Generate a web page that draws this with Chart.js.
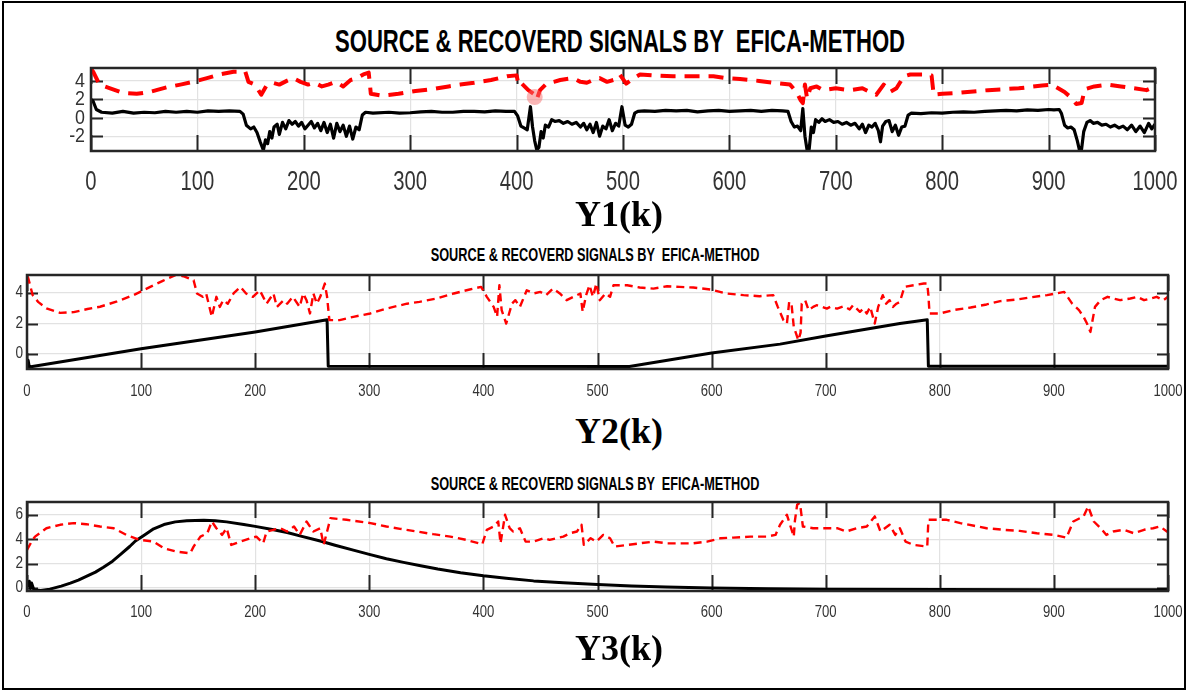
<!DOCTYPE html>
<html>
<head>
<meta charset="utf-8">
<script src="https://cdn.jsdelivr.net/npm/chart.js@4.4.1/dist/chart.umd.min.js"></script>
<style>
  html, body { margin: 0; padding: 0; background: #fff; }
  #fig { position: relative; width: 1188px; height: 691px; overflow: hidden; background: #fff; }
  #frame { position: absolute; left: 2px; top: 1px; width: 1184px; height: 689px; border: 2px solid #000; box-sizing: border-box; }
  canvas { position: absolute; left: 0; }
  .ttl { position: absolute; font-family: 'Liberation Sans', Arial, sans-serif; font-weight: bold; color: #000; white-space: pre; line-height: 1; }
  .ylab { position: absolute; transform: translateX(-50%); font-family: 'Liberation Serif', 'Times New Roman', serif; font-weight: bold; color: #000; white-space: pre; line-height: 1; }
</style>
</head>
<body>
<div id="fig">
  <div id="frame"></div>
  <div class="ttl" style="left:620px; top:25px; font-size:32px; transform:translateX(-50%) scaleX(0.69);">SOURCE &amp; RECOVERD SIGNALS BY  EFICA-METHOD</div>
  <canvas id="c1" width="1188" height="140" style="top:60px;"></canvas>
  <div class="ylab" style="left:619px; top:196px; font-size:36px;">Y1(k)</div>
  <div class="ttl" style="left:595px; top:245px; font-size:19px; transform:translateX(-50%) scaleX(0.67);">SOURCE &amp; RECOVERD SIGNALS BY  EFICA-METHOD</div>
  <canvas id="c2" width="1188" height="140" style="top:268px;"></canvas>
  <div class="ylab" style="left:619px; top:413px; font-size:36px;">Y2(k)</div>
  <div class="ttl" style="left:595px; top:474px; font-size:19px; transform:translateX(-50%) scaleX(0.67);">SOURCE &amp; RECOVERD SIGNALS BY  EFICA-METHOD</div>
  <canvas id="c3" width="1188" height="140" style="top:495px;"></canvas>
  <div class="ylab" style="left:619px; top:630px; font-size:36px;">Y3(k)</div>
</div>
<script>
// Sample index ticks shared by all three panels
const kTicks = [0, 100, 200, 300, 400, 500, 600, 700, 800, 900, 1000];
const y1Ticks = [-2, 0, 2, 4];
const y2Ticks = [0, 2, 4];
const y3Ticks = [0, 2, 4, 6];

// Y1: source (black) and recovered (red dashed), [k, value]
const y1Source = [[0,2.0],[2,1.8],[5,0.9],[10,0.6],[20,0.5],[30,0.7],[40,0.5],[50,0.6],[60,0.55],[70,0.7],[80,0.6],[90,0.7],[100,0.6],[110,0.75],[120,0.7],[130,0.75],[140,0.7],[143,0.4],[146,-0.8],[150,-1.2],[153,-1.0],[156,-1.6],[159,-2.6],[162,-3.5],[164,-2.4],[166,-2.8],[168,-1.5],[170,-2.2],[172,-1.0],[175,-0.7],[177,-1.8],[180,-0.5],[183,-1.2],[186,-0.3],[189,-0.7],[192,-0.4],[195,-0.9],[198,-0.5],[201,-1.2],[204,-0.8],[207,-0.4],[210,-1.1],[213,-0.6],[216,-1.4],[219,-0.5],[222,-1.6],[225,-0.7],[228,-2.2],[231,-0.6],[234,-1.5],[237,-0.8],[240,-2.0],[243,-0.9],[246,-2.3],[249,-1.0],[252,-1.3],[255,0.3],[258,0.6],[265,0.5],[280,0.6],[290,0.5],[300,0.55],[310,0.65],[320,0.7],[330,0.6],[340,0.6],[350,0.7],[360,0.7],[370,0.65],[380,0.75],[390,0.7],[398,0.7],[401,0.2],[404,-0.9],[407,-1.1],[410,-1.3],[413,1.2],[415,-1.0],[417,-2.5],[419,-3.5],[421,-3.2],[423,-1.5],[425,-2.2],[427,-0.8],[430,-1.0],[433,-0.2],[436,-0.4],[440,-0.3],[444,-0.6],[448,-0.4],[452,-0.7],[456,-0.5],[460,-1.0],[463,-0.6],[466,-1.3],[469,-0.7],[472,-1.6],[475,-0.5],[478,-2.0],[481,-0.9],[484,-1.2],[487,-0.2],[490,-1.4],[493,-0.6],[496,-0.9],[499,1.2],[502,-0.8],[505,-1.0],[508,-0.7],[511,0.5],[514,0.7],[520,0.75],[530,0.7],[540,0.8],[550,0.75],[560,0.8],[570,0.65],[580,0.75],[590,0.8],[600,0.7],[610,0.75],[620,0.8],[630,0.7],[640,0.8],[650,0.75],[655,0.7],[658,-0.4],[661,-1.0],[664,-0.9],[667,-1.4],[669,1.0],[671,-2.0],[673,-3.5],[675,-3.4],[677,-1.0],[679,-1.6],[681,-0.2],[684,-0.5],[687,-0.1],[690,-0.4],[694,-0.2],[698,-0.5],[702,-0.4],[706,-0.7],[710,-0.5],[714,-0.8],[718,-0.6],[722,-1.2],[725,-0.7],[728,-1.6],[731,-0.8],[734,-1.0],[737,-0.6],[740,-1.4],[742,-2.6],[744,-0.9],[747,-0.4],[750,-0.3],[753,-1.5],[756,-0.8],[759,-1.9],[762,-1.0],[765,-0.9],[768,0.3],[771,0.5],[780,0.45],[790,0.55],[800,0.5],[810,0.6],[820,0.65],[830,0.6],[840,0.7],[850,0.75],[860,0.8],[870,0.75],[880,0.85],[890,0.8],[900,0.9],[905,0.85],[910,0.9],[912,0.5],[915,-0.8],[918,-1.1],[921,-1.0],[924,-1.3],[927,-2.5],[929,-3.5],[931,-3.4],[933,-1.5],[936,-0.5],[939,-0.3],[942,-0.6],[946,-0.5],[950,-0.8],[954,-0.7],[958,-1.0],[962,-0.8],[966,-1.1],[970,-0.9],[974,-1.3],[978,-0.8],[982,-1.5],[986,-0.9],[990,-1.6],[994,-0.6],[997,-1.2],[1000,-0.7]];
const y1Recovered = [[0,5.3],[2,5.0],[8,3.6],[18,3.2],[30,2.7],[43,2.6],[55,2.8],[71,3.3],[84,3.6],[96,3.9],[109,4.3],[121,4.7],[134,5.0],[145,5.0],[148,3.9],[154,3.6],[160,2.5],[165,3.5],[171,3.8],[177,3.6],[184,4.0],[190,4.3],[197,3.9],[204,3.6],[210,3.8],[217,3.4],[223,3.6],[230,3.9],[237,3.4],[244,4.1],[250,4.3],[256,4.7],[261,4.9],[263,2.6],[273,2.4],[289,2.6],[305,2.9],[320,3.1],[336,3.4],[347,3.6],[360,3.8],[376,4.1],[391,4.5],[400,4.6],[402,3.5],[405,3.7],[411,3.0],[416,2.6],[419,2.0],[422,3.0],[428,3.7],[435,3.9],[441,4.1],[453,4.3],[460,3.9],[466,3.8],[472,4.1],[478,4.3],[485,3.9],[491,4.1],[497,4.7],[503,3.7],[510,4.3],[516,4.7],[528,4.6],[547,4.5],[566,4.5],[585,4.5],[597,4.3],[610,4.2],[628,4.0],[641,3.8],[657,3.6],[660,3.2],[664,2.6],[667,1.9],[669,1.6],[671,3.6],[673,2.1],[676,3.2],[682,3.4],[688,3.0],[700,3.2],[713,3.0],[725,3.2],[732,2.8],[738,2.5],[745,3.6],[751,2.8],[757,3.2],[764,4.5],[770,4.7],[786,4.7],[790,4.6],[792,2.5],[800,2.6],[815,2.7],[843,3.0],[872,3.2],[894,3.5],[903,3.6],[909,3.2],[915,2.8],[921,2.2],[926,1.5],[931,1.6],[934,3.1],[943,3.4],[956,3.6],[968,3.4],[980,3.2],[992,3.0],[1000,3.4]];
// highlighted sample on the Y1 panel
const y1Marker = [[417, 2.25]];

// Y2: sawtooth source and recovered signal
const y2Source = [[0,-0.85],[1,-0.4],[2,-0.85],[100,0.35],[200,1.45],[240,1.95],[263,2.25],[264,-0.8],[528,-0.82],[600,0.07],[660,0.65],[700,1.18],[765,2.0],[789,2.25],[790,-0.8],[1000,-0.8]];
const y2Recovered = [[0,5.1],[1,5.0],[5,3.85],[10,3.4],[17,3.0],[29,2.7],[41,2.75],[53,2.95],[64,3.1],[79,3.45],[93,3.85],[108,4.4],[119,4.8],[131,5.2],[137,5.1],[146,4.84],[149,3.97],[154,3.75],[157,3.97],[162,2.44],[166,3.75],[169,3.09],[172,3.53],[176,3.3],[181,3.97],[187,4.4],[192,3.97],[198,3.75],[204,4.18],[210,3.3],[216,3.97],[219,3.09],[225,3.53],[228,3.3],[233,3.75],[239,3.09],[242,3.97],[245,3.53],[248,2.66],[251,3.97],[254,3.3],[257,3.75],[261,4.62],[263,3.75],[265,2.22],[274,2.22],[286,2.44],[301,2.66],[315,2.98],[333,3.3],[344,3.42],[359,3.64],[374,3.97],[388,4.23],[398,4.4],[403,3.75],[409,3.09],[412,2.44],[414,4.51],[416,2.88],[420,2.0],[425,3.3],[428,3.53],[432,3.09],[438,4.18],[444,3.97],[450,4.07],[455,3.86],[461,4.29],[467,3.97],[473,3.53],[479,3.75],[485,3.97],[487,2.77],[490,3.86],[493,4.51],[496,3.75],[499,4.62],[502,3.53],[507,3.97],[511,3.75],[514,4.51],[526,4.51],[537,4.36],[549,4.29],[561,4.44],[572,4.4],[584,4.36],[599,4.23],[613,3.97],[628,3.86],[642,3.79],[654,3.86],[658,3.09],[663,2.22],[666,2.0],[668,3.42],[670,3.3],[672,1.8],[676,0.9],[678,1.4],[679,3.3],[682,3.53],[685,2.88],[689,3.09],[692,3.2],[697,3.09],[701,2.98],[704,3.09],[710,2.98],[716,3.13],[721,2.92],[724,3.2],[730,2.77],[733,2.98],[736,2.66],[739,3.09],[743,2.0],[746,3.09],[750,3.86],[753,3.3],[756,3.53],[759,3.09],[762,3.3],[765,3.42],[769,4.4],[777,4.51],[786,4.62],[789,4.62],[790,3.86],[791,2.66],[800,2.66],[812,2.88],[827,3.05],[841,3.25],[853,3.47],[868,3.58],[879,3.71],[894,3.86],[909,4.07],[916,3.3],[922,2.88],[926,2.44],[929,2.0],[932,1.45],[936,3.09],[941,3.53],[947,3.75],[952,3.64],[958,3.53],[967,3.64],[973,3.75],[979,3.53],[985,3.64],[990,3.75],[996,3.53],[1000,3.75]];

// Y3: smooth pulse source and recovered signal
const y3Source = [[0,0.1],[2,0.55],[3,-0.05],[4,0.4],[6,-0.15],[12,-0.2],[20,-0.1],[30,0.15],[38,0.4],[45,0.65],[52,0.95],[60,1.3],[67,1.7],[75,2.2],[82,2.75],[90,3.4],[95,3.85],[103,4.35],[111,4.85],[120,5.2],[130,5.42],[140,5.52],[155,5.55],[165,5.52],[175,5.42],[190,5.2],[200,5.05],[215,4.8],[228,4.55],[240,4.25],[257,3.85],[270,3.5],[286,3.1],[300,2.75],[315,2.4],[330,2.1],[345,1.82],[360,1.55],[380,1.25],[400,1.0],[420,0.8],[444,0.58],[470,0.42],[500,0.28],[530,0.17],[560,0.08],[600,0.0],[650,-0.07],[700,-0.1],[800,-0.13],[900,-0.14],[1000,-0.15]];
const y3Recovered = [[0,3.11],[4,3.8],[7,4.21],[17,4.9],[29,5.18],[41,5.32],[52,5.23],[64,5.04],[76,4.9],[87,4.35],[99,3.94],[111,3.8],[120,3.25],[131,2.98],[143,2.84],[146,3.39],[152,4.21],[158,4.49],[162,5.45],[166,4.9],[171,4.35],[175,4.9],[179,3.53],[187,3.8],[196,4.08],[201,4.21],[207,3.66],[210,4.63],[216,4.77],[222,4.9],[228,4.63],[234,5.04],[239,4.35],[245,5.45],[251,4.63],[257,4.9],[260,3.53],[263,4.63],[266,5.73],[280,5.59],[301,5.32],[315,5.04],[327,4.85],[342,4.63],[356,4.41],[371,4.21],[385,3.94],[399,3.58],[403,4.77],[409,5.04],[413,5.45],[415,3.66],[419,6.0],[423,4.9],[426,4.63],[432,4.9],[437,3.8],[444,3.8],[453,4.08],[458,3.94],[464,4.08],[470,4.21],[476,4.49],[482,4.63],[486,5.18],[488,3.53],[494,4.08],[499,3.8],[505,4.35],[511,4.08],[515,3.39],[526,3.53],[537,3.66],[549,3.8],[561,3.66],[572,3.66],[584,3.66],[596,3.8],[608,4.08],[619,4.13],[634,4.21],[648,4.21],[656,4.35],[660,5.18],[666,6.0],[672,4.21],[673,5.5],[675,6.83],[677,6.97],[678,6.55],[680,5.04],[689,4.9],[698,4.9],[710,4.9],[718,4.63],[727,4.9],[736,5.04],[743,5.87],[748,4.63],[756,5.18],[761,4.35],[765,4.9],[770,3.8],[777,3.53],[789,3.39],[790,5.59],[797,5.59],[806,5.59],[818,5.32],[830,5.1],[841,4.9],[856,4.77],[870,4.68],[885,4.49],[900,4.35],[911,4.13],[917,5.45],[926,5.87],[930,6.69],[935,5.45],[941,4.9],[946,4.35],[952,4.63],[961,4.77],[970,4.49],[979,4.77],[987,4.9],[993,5.04],[999,4.63],[1000,4.7]];

const TICK_FONT = "'Liberation Sans', Arial, sans-serif";

// Axes box, inward tick marks on all four sides, and condensed tick labels
const boxTicks = {
  id: 'boxTicks',
  beforeDatasetsDraw(chart, args, o) {
    const { ctx, chartArea: a, scales: { x, y } } = chart;
    ctx.save();
    ctx.strokeStyle = '#262626';
    ctx.lineWidth = 2;
    ctx.beginPath();
    x.ticks.forEach(t => {
      const px = Math.round(x.getPixelForValue(t.value)) + 0.5;
      ctx.moveTo(px, a.bottom); ctx.lineTo(px, a.bottom - o.xLen);
      ctx.moveTo(px, a.top); ctx.lineTo(px, a.top + o.xLen);
    });
    y.ticks.forEach(t => {
      const py = Math.round(y.getPixelForValue(t.value)) + 0.5;
      ctx.moveTo(a.left, py); ctx.lineTo(a.left + o.yLen, py);
      ctx.moveTo(a.right, py); ctx.lineTo(a.right - o.yLen, py);
    });
    ctx.stroke();
    ctx.restore();
  },
  afterDatasetsDraw(chart, args, o) {
    const { ctx, chartArea: a, scales: { x, y } } = chart;
    ctx.save();
    ctx.strokeStyle = '#262626';
    ctx.lineWidth = 2.5;
    ctx.strokeRect(a.left, a.top, a.right - a.left, a.bottom - a.top);

    ctx.fillStyle = '#333';
    ctx.textBaseline = 'alphabetic';
    ctx.textAlign = 'center';
    ctx.font = o.xFont + 'px ' + TICK_FONT;
    x.ticks.forEach(t => {
      ctx.save();
      ctx.translate(x.getPixelForValue(t.value), a.bottom + o.xBase);
      ctx.scale(o.xSx, 1);
      ctx.fillText(String(t.value), 0, 0);
      ctx.restore();
    });
    ctx.textBaseline = 'middle';
    ctx.textAlign = 'right';
    ctx.font = o.yFont + 'px ' + TICK_FONT;
    y.ticks.forEach(t => {
      ctx.save();
      ctx.translate(a.left - o.yPad, y.getPixelForValue(t.value));
      ctx.scale(o.ySx, 1);
      ctx.fillText(String(t.value), 0, 0);
      ctx.restore();
    });
    ctx.restore();
  }
};

const pts = arr => arr.map(([k, v]) => ({ x: k, y: v }));

function panel(id, p) {
  const datasets = [
    { data: pts(p.red), borderColor: '#ff0000', borderWidth: p.redW, borderDash: p.dash,
      pointRadius: 0, tension: 0, order: 1, borderJoinStyle: 'round' },
    { data: pts(p.black), borderColor: '#000000', borderWidth: p.blackW,
      pointRadius: 0, tension: 0, order: 2, borderJoinStyle: 'round' }
  ];
  if (p.marker) {
    datasets.push({ data: pts(p.marker), showLine: false, pointRadius: 8, pointBorderWidth: 0,
      pointBackgroundColor: 'rgba(245,110,110,0.5)', borderColor: 'transparent', order: 0 });
  }
  return new Chart(document.getElementById(id), {
    type: 'line',
    data: { datasets },
    options: {
      responsive: false,
      animation: false,
      devicePixelRatio: 1,
      layout: { padding: { left: 0, right: p.padR, top: p.padT, bottom: 0 } },
      plugins: { legend: { display: false }, tooltip: { enabled: false }, title: { display: false },
                 boxTicks: p.axis },
      scales: {
        x: {
          type: 'linear', min: 0, max: 1000,
          afterBuildTicks: s => { s.ticks = kTicks.map(v => ({ value: v })); },
          afterFit: s => { s.height = p.xH; },
          grid: { color: '#e2e2e2', lineWidth: 1.2, drawTicks: false },
          border: { display: false },
          ticks: { display: false }
        },
        y: {
          type: 'linear', min: p.yMin, max: p.yMax,
          afterBuildTicks: s => { s.ticks = p.yTicks.map(v => ({ value: v })); },
          afterFit: s => { s.width = p.yW; },
          grid: { color: '#e2e2e2', lineWidth: 1.2, drawTicks: false },
          border: { display: false },
          ticks: { display: false }
        }
      }
    },
    plugins: [boxTicks]
  });
}

panel('c1', { red: y1Recovered, black: y1Source, marker: y1Marker, redW: 4, blackW: 3.2, dash: [15, 9],
  yMin: -3.6, yMax: 5.4, yTicks: y1Ticks, padT: 7, padR: 33, yW: 91, xH: 49,
  axis: { xLen: 16, yLen: 12, xFont: 27, xSx: 0.75, xBase: 39, yFont: 21, ySx: 0.85, yPad: 6 } });
panel('c2', { red: y2Recovered, black: y2Source, redW: 2.4, blackW: 3, dash: [8, 5],
  yMin: -0.98, yMax: 5.18, yTicks: y2Ticks, padT: 7, padR: 20, yW: 27, xH: 39,
  axis: { xLen: 16, yLen: 11, xFont: 16, xSx: 0.82, xBase: 27, yFont: 16, ySx: 0.85, yPad: 4 } });
panel('c3', { red: y3Recovered, black: y3Source, redW: 2.4, blackW: 3, dash: [8, 5],
  yMin: -0.25, yMax: 7.05, yTicks: y3Ticks, padT: 7, padR: 20, yW: 27, xH: 44,
  axis: { xLen: 16, yLen: 11, xFont: 16, xSx: 0.82, xBase: 26, yFont: 16, ySx: 0.85, yPad: 4 } });
</script>
</body>
</html>
